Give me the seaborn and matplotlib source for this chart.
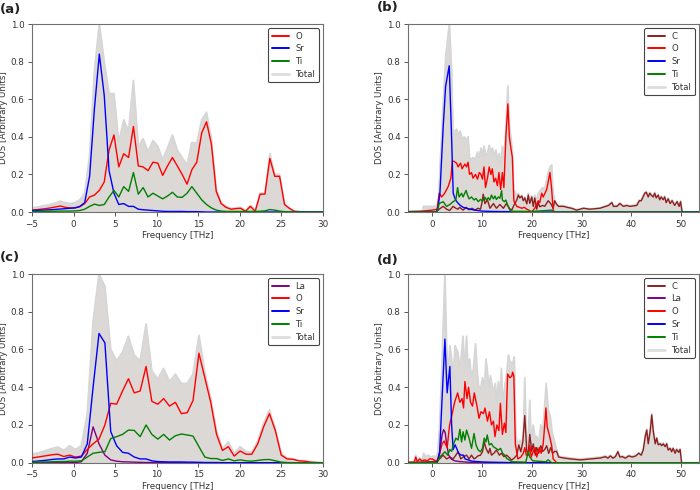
import matplotlib
matplotlib.use("Agg")
import matplotlib.pyplot as plt
import seaborn as sns
from matplotlib.lines import Line2D

# ---------------- data ----------------
# panel (a)
A_X = [-5.10, -4.52, -3.93, -3.35, -2.76, -2.17, -1.59, -1.00, -0.42, 0.17, 0.76, 1.34, 1.93, 2.51, 3.10,
       3.69, 4.27, 4.86, 5.44, 6.03, 6.62, 7.20, 7.79, 8.37, 8.96, 9.55, 10.13, 10.72, 11.30, 11.89, 12.48,
       13.06, 13.65, 14.23, 14.82, 15.41, 15.99, 16.58, 17.16, 17.75, 18.34, 18.92, 19.51, 20.09, 20.68,
       21.27, 21.85, 22.44, 23.02, 23.61, 24.20, 24.78, 25.37, 25.95, 26.54, 27.13, 27.71, 28.30, 28.88,
       29.47, 30.06]
A_O = [0.010, 0.012, 0.015, 0.018, 0.022, 0.027, 0.032, 0.025, 0.022, 0.022, 0.028, 0.045, 0.080, 0.090, 0.115,
       0.160, 0.330, 0.410, 0.240, 0.310, 0.290, 0.455, 0.245, 0.240, 0.220, 0.265, 0.260, 0.195, 0.245, 0.290,
       0.245, 0.200, 0.148, 0.225, 0.265, 0.420, 0.480, 0.360, 0.110, 0.045, 0.025, 0.015, 0.018, 0.020, 0.004,
       0.030, 0.004, 0.095, 0.095, 0.285, 0.190, 0.190, 0.040, 0.020, 0.004, 0.002, 0.001, 0.001, 0.001, 0.001,
       0.001]
A_SR = [0.008, 0.009, 0.010, 0.011, 0.012, 0.014, 0.016, 0.018, 0.020, 0.022, 0.030, 0.050, 0.190, 0.550, 0.840,
        0.620, 0.220, 0.100, 0.040, 0.045, 0.030, 0.030, 0.015, 0.012, 0.010, 0.008, 0.006, 0.004, 0.003, 0.003,
        0.003, 0.003, 0.002, 0.002, 0.002, 0.001, 0.0, 0.0, 0.0, 0.0, 0.0, 0.0, 0.0, 0.0, 0.0,
        0.0, 0.0, 0.0, 0.0, 0.0, 0.0, 0.0, 0.0, 0.0, 0.0, 0.0, 0.0, 0.0, 0.0, 0.0, 0.0]
A_TI = [0.003, 0.003, 0.003, 0.004, 0.004, 0.004, 0.005, 0.005, 0.005, 0.006, 0.008, 0.015, 0.030, 0.042, 0.035,
        0.040, 0.080, 0.115, 0.080, 0.135, 0.110, 0.210, 0.095, 0.130, 0.080, 0.100, 0.085, 0.070, 0.085, 0.105,
        0.080, 0.078, 0.100, 0.135, 0.100, 0.065, 0.040, 0.022, 0.010, 0.005, 0.003, 0.003, 0.003, 0.003, 0.003,
        0.003, 0.003, 0.004, 0.006, 0.013, 0.010, 0.005, 0.002, 0.001, 0.0, 0.0, 0.0, 0.0, 0.0, 0.0, 0.0]
A_TOTAL = [0.020, 0.025, 0.030, 0.035, 0.040, 0.048, 0.058, 0.050, 0.045, 0.050, 0.065, 0.100, 0.300, 0.750, 1.000,
           0.800, 0.630, 0.630, 0.370, 0.490, 0.430, 0.700, 0.350, 0.390, 0.320, 0.380, 0.350, 0.280, 0.340, 0.410,
           0.330, 0.290, 0.250, 0.370, 0.365, 0.490, 0.530, 0.390, 0.125, 0.050, 0.030, 0.020, 0.022, 0.025, 0.008,
           0.035, 0.010, 0.100, 0.100, 0.310, 0.200, 0.200, 0.045, 0.020, 0.005, 0.003, 0.002, 0.001, 0.001, 0.001,
           0.001]

# panel (c)
C_X = [-5.42, -4.72, -4.01, -3.30, -2.60, -1.89, -1.18, -0.48, 0.23, 0.94, 1.65, 2.35, 3.06, 3.77, 4.47, 5.18,
       5.89, 6.60, 7.30, 8.01, 8.72, 9.42, 10.13, 10.84, 11.54, 12.25, 12.96, 13.67, 14.37, 15.08, 15.79, 16.50,
       17.20, 17.91, 18.62, 19.32, 20.03, 20.74, 21.44, 22.15, 22.86, 23.56, 24.27, 24.98, 25.69, 26.39, 27.10,
       27.81, 28.52, 29.22, 29.93, 30.64]
C_TOTAL = [0.045, 0.047, 0.055, 0.065, 0.075, 0.083, 0.065, 0.090, 0.070, 0.090,
           0.260, 0.750, 1.000, 0.935, 0.600, 0.540, 0.585, 0.670, 0.570, 0.540,
           0.735, 0.485, 0.445, 0.500, 0.430, 0.470, 0.420, 0.420, 0.470, 0.675,
           0.480, 0.340, 0.170, 0.075, 0.110, 0.050, 0.085, 0.060, 0.055, 0.115,
           0.210, 0.280, 0.180, 0.050, 0.025, 0.020, 0.012, 0.008, 0.004, 0.002, 0.001, 0.001]
C_O = [0.025, 0.027, 0.032, 0.037, 0.042, 0.045, 0.033, 0.040, 0.030, 0.035,
       0.070, 0.100, 0.125, 0.200, 0.315, 0.310, 0.380, 0.445, 0.370, 0.380,
       0.510, 0.325, 0.310, 0.340, 0.300, 0.320, 0.260, 0.265, 0.330, 0.580,
       0.450, 0.320, 0.150, 0.065, 0.085, 0.035, 0.062, 0.045, 0.045, 0.100,
       0.190, 0.260, 0.170, 0.040, 0.020, 0.018, 0.010, 0.008, 0.003, 0.001, 0.0, 0.0]
C_SR = [0.005, 0.007, 0.010, 0.013, 0.017, 0.020, 0.020, 0.030, 0.025, 0.030,
        0.100, 0.400, 0.685, 0.635, 0.165, 0.090, 0.055, 0.050, 0.030, 0.020,
        0.020, 0.010, 0.006, 0.005, 0.004, 0.004, 0.004, 0.003, 0.003, 0.002,
        0.001, 0.001, 0.001, 0.0, 0.0, 0.0, 0.0, 0.0, 0.0, 0.0,
        0.0, 0.0, 0.0, 0.0, 0.0, 0.0, 0.0, 0.0, 0.0, 0.0, 0.0, 0.0]
C_LA = [0.0, 0.0, 0.0, 0.0, 0.0, 0.0, 0.0, 0.0, 0.001, 0.005,
        0.050, 0.190, 0.100, 0.040, 0.015, 0.008, 0.005, 0.004, 0.003, 0.002,
        0.001, 0.001, 0.0, 0.0, 0.0, 0.0, 0.0, 0.0, 0.0, 0.0,
        0.0, 0.0, 0.0, 0.0, 0.0, 0.0, 0.0, 0.0, 0.0, 0.0,
        0.0, 0.0, 0.0, 0.0, 0.0, 0.0, 0.0, 0.0, 0.0, 0.0, 0.0, 0.0]
C_TI = [0.003, 0.003, 0.004, 0.004, 0.005, 0.006, 0.006, 0.008, 0.008, 0.010,
        0.030, 0.050, 0.055, 0.058, 0.128, 0.138, 0.150, 0.173, 0.171, 0.138,
        0.200, 0.150, 0.125, 0.150, 0.120, 0.143, 0.152, 0.147, 0.141, 0.085,
        0.030, 0.022, 0.022, 0.012, 0.020, 0.010, 0.015, 0.010, 0.008, 0.012,
        0.016, 0.017, 0.010, 0.003, 0.001, 0.0, 0.0, 0.0, 0.0, 0.0, 0.0, 0.0]

# panel (b)
B_TOTAL_X = [-4.8, -1.9, -1.8, 0.9, 1.3, 1.6, 2.2, 2.7, 3.1, 3.45, 3.9, 4.2, 4.5, 4.9, 5.2, 5.6, 6.0, 6.4, 6.9,
             7.2, 7.5, 7.9, 8.2, 8.7, 9.1, 9.45, 9.8, 10.1, 10.4, 10.8, 11.1, 11.45, 11.8, 12.1, 12.4, 12.8, 13.1,
             13.45, 13.8, 14.1, 14.4, 14.8, 15.2, 15.5, 15.8, 16.1, 16.4, 17.0, 17.3, 17.6, 18.0, 18.3, 18.6, 19.0,
             19.3, 19.6, 20.0, 20.3, 20.6, 21.0, 21.3, 21.6, 22.2, 22.6, 23.0, 23.3, 23.7, 24.0, 24.3, 24.6, 25.0,
             25.4, 26.4, 27.1, 28.0, 29.0, 30.4, 31.7, 33.7, 35.4, 36.1, 36.4, 37.1, 37.7, 38.4, 39.1, 39.7, 41.1,
             41.6, 42.0, 42.7, 43.0, 43.4, 43.7, 44.0, 44.4, 44.7, 45.0, 45.4, 45.7, 46.0, 46.4, 46.7, 47.0, 47.4,
             47.8, 48.2, 48.7, 49.2, 49.6, 49.9, 50.2, 53.6]
B_TOTAL = [0.005, 0.005, 0.03, 0.03, 0.06, 0.25, 0.58, 0.82, 0.92, 1.0, 0.75, 0.42, 0.43, 0.44, 0.41, 0.43, 0.39,
           0.40, 0.38, 0.40, 0.29, 0.28, 0.29, 0.28, 0.32, 0.29, 0.34, 0.30, 0.35, 0.30, 0.31, 0.355, 0.32, 0.34,
           0.30, 0.33, 0.28, 0.31, 0.26, 0.35, 0.28, 0.45, 0.67, 0.47, 0.40, 0.33, 0.12, 0.09, 0.10, 0.08, 0.09,
           0.065, 0.08, 0.05, 0.10, 0.055, 0.085, 0.04, 0.09, 0.06, 0.10, 0.11, 0.13, 0.12, 0.17, 0.21, 0.24, 0.25,
           0.10, 0.065, 0.045, 0.035, 0.035, 0.028, 0.022, 0.012, 0.022, 0.017, 0.022, 0.038, 0.055, 0.033, 0.033,
           0.05, 0.033, 0.038, 0.033, 0.04, 0.065, 0.065, 0.105, 0.11, 0.085, 0.105, 0.095, 0.085, 0.105, 0.08,
           0.095, 0.07, 0.085, 0.07, 0.085, 0.055, 0.075, 0.05, 0.065, 0.04, 0.06, 0.035, 0.06, 0.0, 0.0]
B_C_X = [-4.8, 0.5, 1.0, 1.4, 2.2, 2.9, 3.5, 4.2, 4.75, 5.2, 5.5, 6.2, 6.8, 7.4, 8.0, 8.6, 9.2, 9.7, 10.0, 10.25,
         10.6, 11.1, 11.6, 12.3, 12.9, 13.6, 14.3, 14.9, 15.5, 16.0, 16.3, 16.6, 17.0, 17.3, 17.6, 18.0, 18.3, 18.6,
         19.0, 19.3, 19.6, 20.0, 20.3, 20.6, 21.0, 21.3, 21.6, 22.2, 22.6, 23.3, 23.8, 24.3, 24.6, 25.0, 25.4, 26.4,
         27.1, 28.0, 29.0, 30.4, 31.7, 33.7, 35.4, 36.1, 36.4, 37.1, 37.7, 38.4, 39.1, 39.7, 41.1, 41.6, 42.0, 42.7,
         43.0, 43.4, 43.7, 44.0, 44.4, 44.7, 45.0, 45.4, 45.7, 46.0, 46.4, 46.7, 47.0, 47.4, 47.8, 48.2, 48.7, 49.2,
         49.6, 49.9, 50.2, 53.6]
B_C = [0.0, 0.0, 0.005, 0.015, 0.03, 0.015, 0.008, 0.03, 0.02, 0.015, 0.025, 0.01, 0.025, 0.012, 0.02, 0.01,
       0.02, 0.015, 0.05, 0.095, 0.045, 0.065, 0.02, 0.045, 0.02, 0.04, 0.02, 0.045, 0.02, 0.01, 0.03, 0.045,
       0.065, 0.09, 0.075, 0.085, 0.06, 0.075, 0.043, 0.09, 0.046, 0.08, 0.03, 0.075, 0.015, 0.05, 0.028, 0.035,
       0.03, 0.06, 0.045, 0.02, 0.06, 0.04, 0.03, 0.03, 0.025, 0.02, 0.01, 0.02, 0.015, 0.02, 0.035, 0.05, 0.03,
       0.03, 0.045, 0.03, 0.035, 0.03, 0.035, 0.06, 0.06, 0.1, 0.105, 0.08, 0.1, 0.09, 0.08, 0.1, 0.075, 0.09,
       0.065, 0.08, 0.065, 0.08, 0.05, 0.07, 0.045, 0.06, 0.035, 0.055, 0.03, 0.055, 0.0, 0.0]
B_O_X = [-4.8, -2.0, 0.0, 1.0, 1.4, 1.9, 2.5, 3.2, 3.75, 4.05, 4.35, 4.9, 5.2, 5.7, 6.0, 6.55, 6.9, 7.2, 7.5, 7.9,
         8.2, 8.7, 9.1, 9.45, 9.8, 10.1, 10.4, 10.7, 11.1, 11.45, 11.8, 12.07, 12.4, 12.75, 13.1, 13.4, 13.75, 14.1,
         14.4, 14.8, 15.2, 15.5, 15.75, 16.1, 16.4, 17.0, 17.5, 18.0, 18.5, 19.0, 19.4, 20.0, 20.6, 21.3, 21.6,
         22.0, 22.3, 23.0, 23.3, 23.66, 24.0, 24.3, 24.6, 53.6]
B_O = [0.002, 0.005, 0.01, 0.015, 0.1, 0.08, 0.1, 0.135, 0.18, 0.27, 0.27, 0.26, 0.24, 0.26, 0.23, 0.255, 0.24,
       0.265, 0.2, 0.21, 0.18, 0.2, 0.175, 0.21, 0.2, 0.175, 0.24, 0.13, 0.18, 0.24, 0.2, 0.23, 0.16, 0.18, 0.14,
       0.21, 0.12, 0.21, 0.13, 0.4, 0.575, 0.4, 0.35, 0.29, 0.06, 0.03, 0.025, 0.02, 0.025, 0.015, 0.01, 0.0, 0.02,
       0.06, 0.05, 0.1, 0.08, 0.12, 0.16, 0.21, 0.12, 0.01, 0.0, 0.0]
B_SR_X = [-4.8, 0.5, 0.9, 1.2, 1.55, 2.2, 2.7, 3.1, 3.42, 3.89, 4.22, 4.69, 5.1, 5.56, 6.2, 6.9, 7.6, 8.57, 10.0,
          12.0, 15.0, 17.0, 53.6]
B_SR = [0.0, 0.0, 0.003, 0.03, 0.1, 0.45, 0.67, 0.73, 0.778, 0.4, 0.1, 0.064, 0.05, 0.037, 0.025, 0.02, 0.015,
        0.01, 0.005, 0.003, 0.002, 0.0, 0.0]
B_TI_X = [-4.8, 0.8, 1.1, 1.4, 1.8, 2.2, 2.9, 3.55, 4.2, 4.75, 5.1, 5.4, 5.9, 6.2, 6.8, 7.1, 7.4, 7.9, 8.4, 8.8,
          9.25, 9.7, 10.1, 10.6, 10.9, 11.26, 11.6, 11.9, 12.3, 12.6, 12.9, 13.3, 13.6, 13.95, 14.1, 14.5, 14.8,
          15.15, 15.6, 16.0, 20.0, 23.0, 24.0, 24.5, 53.6]
B_TI = [0.0, 0.0, 0.01, 0.046, 0.05, 0.055, 0.03, 0.04, 0.055, 0.064, 0.13, 0.08, 0.1, 0.08, 0.115, 0.09, 0.07,
        0.08, 0.064, 0.072, 0.055, 0.067, 0.058, 0.078, 0.064, 0.076, 0.064, 0.09, 0.07, 0.085, 0.067, 0.08, 0.073,
        0.113, 0.064, 0.055, 0.064, 0.037, 0.01, 0.004, 0.003, 0.008, 0.01, 0.0, 0.0]

# panel (d)
D_TOTAL_X = [-4.8, -3.6, -3.3, -3.0, -2.5, -2.1, -1.7, -1.3, -0.8, -0.3, 0.2, 0.7, 1.1, 1.5, 2.0, 2.55, 2.9, 3.2,
             3.55, 3.9, 4.2, 4.6, 4.9, 5.2, 5.5, 5.8, 6.2, 6.5, 6.9, 7.2, 7.5, 7.9, 8.3, 8.7, 9.0, 9.3, 9.7, 10.1,
             10.5, 10.8, 11.1, 11.4, 11.7, 12.0, 12.3, 12.7, 13.0, 13.3, 13.6, 13.9, 14.2, 14.6, 14.9, 15.3, 15.6,
             15.9, 16.2, 16.5, 16.8, 17.2, 17.6, 18.0, 18.3, 18.6, 18.9, 19.3, 19.6, 19.9, 20.3, 20.7, 21.0, 21.4,
             21.8, 22.2, 22.6, 22.9, 23.3, 23.7, 24.1, 24.5, 25.0, 25.4, 26.4, 27.8, 29.8, 31.8, 33.8, 34.8, 35.3,
             35.8, 36.3, 36.8, 37.3, 37.7, 38.2, 38.8, 39.5, 40.2, 40.9, 41.5, 42.0, 42.4, 42.8, 43.1, 43.4, 43.8,
             44.1, 44.4, 44.8, 45.1, 45.4, 45.8, 46.1, 46.4, 46.8, 47.1, 47.4, 47.8, 48.1, 48.4, 48.8, 49.1, 49.5,
             49.8, 50.1, 53.6]
D_TOTAL = [0.003, 0.003, 0.04, 0.01, 0.025, 0.01, 0.05, 0.03, 0.04, 0.03, 0.035, 0.03, 0.05, 0.2, 0.55, 1.0, 0.62,
           0.45, 0.62, 0.55, 0.45, 0.62, 0.6, 0.58, 0.5, 0.55, 0.67, 0.48, 0.67, 0.5, 0.55, 0.45, 0.5, 0.63, 0.5,
           0.41, 0.39, 0.45, 0.4, 0.55, 0.48, 0.4, 0.46, 0.41, 0.38, 0.42, 0.32, 0.43, 0.34, 0.5, 0.3, 0.41, 0.45,
           0.57, 0.54, 0.53, 0.53, 0.56, 0.15, 0.09, 0.12, 0.1, 0.15, 0.45, 0.12, 0.15, 0.33, 0.1, 0.2, 0.12, 0.14,
           0.1, 0.2, 0.17, 0.3, 0.42, 0.28, 0.25, 0.16, 0.12, 0.07, 0.035, 0.03, 0.025, 0.02, 0.025, 0.03, 0.037,
           0.03, 0.04, 0.03, 0.037, 0.063, 0.035, 0.037, 0.03, 0.04, 0.035, 0.04, 0.055, 0.045, 0.073, 0.145, 0.178,
           0.105, 0.175, 0.26, 0.175, 0.105, 0.135, 0.1, 0.105, 0.095, 0.105, 0.09, 0.105, 0.072, 0.08, 0.063, 0.08,
           0.055, 0.075, 0.06, 0.075, 0.0, 0.0]
D_C_X = [-4.8, -3.0, -1.0, 0.5, 1.5, 2.2, 2.9, 3.55, 4.2, 4.75, 5.2, 5.75, 6.2, 6.9, 7.4, 7.9, 8.4, 8.8, 9.25, 9.7,
         10.1, 10.45, 10.8, 11.3, 11.6, 11.9, 12.4, 12.9, 13.5, 13.9, 14.4, 14.95, 15.5, 15.95, 16.4, 17.0, 17.4,
         17.8, 18.2, 18.6, 19.0, 19.3, 19.6, 20.0, 20.3, 20.7, 21.0, 21.4, 21.8, 22.2, 22.6, 23.0, 23.4, 23.8, 24.2,
         24.6, 25.0, 25.4, 26.4, 27.8, 29.8, 31.8, 33.8, 34.8, 35.3, 35.8, 36.3, 36.8, 37.3, 37.7, 38.2, 38.8, 39.5,
         40.2, 40.9, 41.5, 42.0, 42.4, 42.8, 43.1, 43.4, 43.8, 44.1, 44.4, 44.8, 45.1, 45.4, 45.8, 46.1, 46.4, 46.8,
         47.1, 47.4, 47.8, 48.1, 48.4, 48.8, 49.1, 49.5, 49.8, 50.1, 53.6]
D_C = [0.0, 0.003, 0.005, 0.005, 0.02, 0.04, 0.02, 0.03, 0.02, 0.04, 0.058, 0.02, 0.03, 0.04, 0.02, 0.04, 0.02,
       0.027, 0.037, 0.04, 0.058, 0.11, 0.076, 0.05, 0.076, 0.04, 0.05, 0.067, 0.04, 0.05, 0.032, 0.04, 0.027,
       0.014, 0.023, 0.04, 0.094, 0.058, 0.11, 0.25, 0.06, 0.05, 0.15, 0.06, 0.1, 0.04, 0.08, 0.05, 0.09, 0.06,
       0.07, 0.09, 0.05, 0.08, 0.05, 0.06, 0.06, 0.03,
       0.025, 0.02, 0.015, 0.02, 0.025, 0.032, 0.024, 0.036, 0.024, 0.032, 0.058, 0.03, 0.032, 0.024, 0.036, 0.03,
       0.036, 0.05, 0.04, 0.068, 0.14, 0.173, 0.1, 0.17, 0.253, 0.17, 0.1, 0.13, 0.095, 0.1, 0.09, 0.1, 0.085, 0.1,
       0.067, 0.076, 0.058, 0.076, 0.05, 0.07, 0.055, 0.07, 0.0, 0.0]
D_LA_X = [-4.8, 1.0, 1.5, 2.0, 2.3, 2.6, 2.9, 3.3, 3.8, 4.5, 5.5, 7.0, 9.0, 53.6]
D_LA = [0.0, 0.0, 0.05, 0.15, 0.175, 0.16, 0.1, 0.04, 0.02, 0.01, 0.006, 0.003, 0.0, 0.0]
D_O_X = [-4.8, -3.6, -3.3, -3.0, -2.5, -2.1, -1.5, -1.0, -0.5, 0.0, 0.5, 1.0, 1.5, 2.0, 2.4, 3.0, 3.5, 4.1, 4.5,
         5.1, 5.56, 6.0, 6.3, 6.57, 7.0, 7.3, 7.7, 8.1, 8.45, 9.0, 9.4, 9.8, 10.3, 10.6, 11.1, 11.5, 11.9, 12.3,
         12.6, 13.0, 13.4, 13.7, 14.1, 14.5, 14.8, 15.15, 15.6, 16.0, 16.15, 16.4, 16.7, 17.2, 17.8, 18.3, 18.6,
         18.9, 19.3, 19.6, 19.9, 20.3, 20.7, 21.0, 21.5, 21.9, 22.3, 22.6, 22.85, 23.1, 23.5, 24.0, 24.3, 25.0, 53.6]
D_O = [0.003, 0.003, 0.03, 0.005, 0.02, 0.01, 0.015, 0.01, 0.02, 0.02, 0.012, 0.01, 0.05, 0.1, 0.115, 0.08, 0.2,
       0.27, 0.32, 0.37, 0.32, 0.34, 0.29, 0.43, 0.34, 0.40, 0.32, 0.30, 0.37, 0.30, 0.235, 0.27, 0.26, 0.29, 0.22,
       0.27, 0.20, 0.22, 0.138, 0.20, 0.17, 0.315, 0.15, 0.21, 0.16, 0.47, 0.45, 0.46, 0.48, 0.46, 0.1, 0.02, 0.03,
       0.05, 0.08, 0.04, 0.04, 0.09, 0.03, 0.06, 0.08, 0.03, 0.08, 0.05, 0.1, 0.2, 0.29, 0.19, 0.15, 0.09, 0.02,
       0.0, 0.0]
D_SR_X = [-4.8, 0.8, 1.1, 1.5, 2.0, 2.55, 3.0, 3.55, 3.9, 4.2, 4.6, 5.0, 5.3, 5.8, 6.3, 6.6, 7.2, 8.0, 10.0, 13.0,
          17.0, 53.6]
D_SR = [0.0, 0.0, 0.01, 0.06, 0.35, 0.655, 0.37, 0.51, 0.2, 0.07, 0.095, 0.07, 0.05, 0.04, 0.04, 0.02, 0.015,
        0.008, 0.004, 0.002, 0.0, 0.0]
D_TI_X = [-4.8, 1.0, 1.5, 1.9, 2.55, 3.1, 3.55, 3.9, 4.3, 4.75, 5.2, 5.56, 5.9, 6.2, 6.57, 6.9, 7.4, 7.9, 8.4, 8.8,
          9.25, 9.7, 10.1, 10.45, 10.8, 11.05, 11.46, 11.9, 12.27, 12.8, 13.27, 13.74, 14.14, 14.6, 14.95, 15.5,
          16.0, 18.8, 19.3, 19.6, 20.2, 22.8, 23.3, 24.0, 53.6]
D_TI = [0.0, 0.0, 0.03, 0.04, 0.058, 0.04, 0.07, 0.06, 0.1, 0.13, 0.12, 0.177, 0.11, 0.164, 0.12, 0.173, 0.13,
        0.076, 0.155, 0.094, 0.067, 0.058, 0.076, 0.13, 0.11, 0.147, 0.094, 0.102, 0.085, 0.076, 0.067, 0.076, 0.05,
        0.04, 0.023, 0.014, 0.005, 0.003, 0.06, 0.03, 0.01, 0.005, 0.015, 0.0, 0.0]

PANEL_LABELS = ["(a)", "(b)", "(c)", "(d)"]
X_LABEL = "Frequency [THz]"
Y_LABEL = "DOS [Arbitrary Units]"

# ---------------- style ----------------
sns.set_theme(style="ticks")
TXT = "#333333"
plt.rcParams.update({
    "font.family": ["DejaVu Sans"],
    "text.color": TXT,
    "axes.labelcolor": TXT,
    "xtick.color": "#555555",
    "ytick.color": "#555555",
    "xtick.labelcolor": TXT,
    "ytick.labelcolor": TXT,
    "axes.edgecolor": "#707070",
    "axes.linewidth": 0.8,
})

COLORS = {"C": "#8e1f1f", "La": "#800080", "O": "#ff0000", "Sr": "#0000ff", "Ti": "#008000"}
FILL = "#dcd8d5"
TOTAL_LINE = "#d6d6d6"


def draw_panel(ax, tx, ty, series, xlim, xticks, xticklabels):
    ax.fill_between(tx, ty, 0, color=FILL, lw=0, zorder=1)
    sns.lineplot(x=tx, y=ty, ax=ax, color=TOTAL_LINE, lw=1.3, estimator=None, sort=False, zorder=2)
    handles = []
    for name, xs, ys in series:
        sns.lineplot(x=xs, y=ys, ax=ax, color=COLORS[name], lw=1.0, estimator=None, sort=False, zorder=3)
        handles.append(Line2D([], [], color=COLORS[name], lw=1.4, label=name))
    handles.append(Line2D([], [], color="#dddddd", lw=2.0, label="Total"))
    ax.set_xlim(*xlim)
    ax.set_ylim(0, 1.0)
    ax.set_xticks(xticks)
    ax.set_xticklabels(xticklabels)
    ax.set_yticks([0.0, 0.2, 0.4, 0.6, 0.8, 1.0])
    ax.set_yticklabels(["0.0", "0.2", "0.4", "0.6", "0.8", "1.0"])
    ax.tick_params(labelsize=6.3, length=3, width=0.7, pad=2.5)
    ax.set_xlabel(X_LABEL, fontsize=6.3, labelpad=2)
    ax.set_ylabel(Y_LABEL, fontsize=6.3, labelpad=2)
    leg = ax.legend(handles=handles, loc="upper right", fontsize=6.1, frameon=True, fancybox=True,
                    framealpha=1.0, edgecolor="#444444", borderaxespad=0.5, handlelength=2.0,
                    labelspacing=0.45, borderpad=0.4)
    leg.get_frame().set_linewidth(0.8)
    for t in leg.get_texts():
        t.set_color(TXT)


fig = plt.figure(figsize=(7, 4.9), dpi=100)
ax_a = fig.add_axes([0.0457, 0.5673, 0.4157, 0.3837])
ax_b = fig.add_axes([0.5833, 0.5673, 0.4153, 0.3837])
ax_c = fig.add_axes([0.0457, 0.0557, 0.4157, 0.3851])
ax_d = fig.add_axes([0.5833, 0.0557, 0.4153, 0.3851])

t35 = [-5, 0, 5, 10, 15, 20, 25, 30]
t35l = ["\u22125", "0", "5", "10", "15", "20", "25", "30"]
t50 = [0, 10, 20, 30, 40, 50]
t50l = ["0", "10", "20", "30", "40", "50"]

draw_panel(ax_a, A_X, A_TOTAL,
           [("O", A_X, A_O), ("Sr", A_X, A_SR), ("Ti", A_X, A_TI)],
           (-5, 30), t35, t35l)
draw_panel(ax_b, B_TOTAL_X, B_TOTAL,
           [("C", B_C_X, B_C), ("O", B_O_X, B_O), ("Sr", B_SR_X, B_SR), ("Ti", B_TI_X, B_TI)],
           (-4.8, 53.6), t50, t50l)
draw_panel(ax_c, C_X, C_TOTAL,
           [("La", C_X, C_LA), ("O", C_X, C_O), ("Sr", C_X, C_SR), ("Ti", C_X, C_TI)],
           (-5, 30), t35, t35l)
draw_panel(ax_d, D_TOTAL_X, D_TOTAL,
           [("C", D_C_X, D_C), ("La", D_LA_X, D_LA), ("O", D_O_X, D_O), ("Sr", D_SR_X, D_SR),
            ("Ti", D_TI_X, D_TI)],
           (-4.8, 53.6), t50, t50l)

label_pos = [(0.0, 1 - 9 / 490), (377 / 700, 1 - 8 / 490), (0.0, 1 - 258 / 490), (377 / 700, 1 - 260 / 490)]
for lab, (px, py) in zip(PANEL_LABELS, label_pos):
    fig.text(px, py, lab, fontsize=9.5, fontweight="bold", ha="left", va="center", color="#222222")

fig.savefig("out.png", dpi=100)
